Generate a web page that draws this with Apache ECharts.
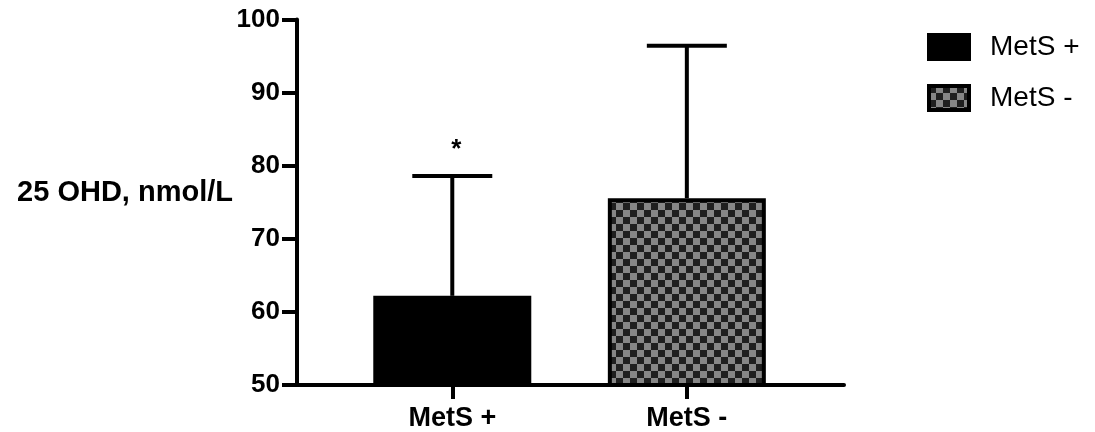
<!DOCTYPE html>
<html><head><meta charset="utf-8">
<script src="https://cdn.jsdelivr.net/npm/echarts@6/dist/echarts.min.js"></script>
<style>html,body{margin:0;padding:0;background:#fff}#c{width:1095px;height:432px}</style>
</head><body><div id="c"></div>
<script>
// ---- data ----
const categories = ['MetS +', 'MetS -'];
const xPositions = [1, 2];
const means = [62.2, 75.55];
const upperErrors = [78.6, 96.4];
const significance = ['*', ''];
const yTicks = [50, 60, 70, 80, 90, 100];
const yAxisTitle = '25 OHD, nmol/L';

const FONT = "'Liberation Sans', Arial, Helvetica, sans-serif";

function makeChecker(size, dark, light) {
  const c = document.createElement('canvas');
  c.width = c.height = size * 2;
  const ctx = c.getContext('2d');
  ctx.fillStyle = light; ctx.fillRect(0, 0, size * 2, size * 2);
  ctx.fillStyle = dark; ctx.fillRect(0, 0, size, size); ctx.fillRect(size, size, size, size);
  return c;
}
const checker = makeChecker(7, '#1f1f1f', '#868686');

const chart = echarts.init(document.getElementById('c'), null, {renderer: 'canvas'});
const option = {
  animation: false,
  backgroundColor: '#fff',
  title: {
    text: yAxisTitle, right: 1095 - 233, top: 178, padding: 0,
    textStyle: {color: '#000', fontSize: 29, fontWeight: 'bold', fontFamily: FONT}
  },
  grid: {left: 297, right: 251, top: 19.5, bottom: 46, containLabel: false},
  xAxis: {
    type: 'value', min: 0.338, max: 2.67,
    splitLine: {show: false},
    axisLine: {show: true, lineStyle: {color: '#000', width: 4}},
    axisTick: {show: true, customValues: xPositions, length: 14, lineStyle: {color: '#000', width: 4}},
    axisLabel: {show: true, customValues: xPositions, margin: 20,
      formatter: v => categories[xPositions.indexOf(v)] || '',
      color: '#000', fontSize: 27, fontWeight: 'bold', fontFamily: FONT}
  },
  yAxis: {
    type: 'value', min: yTicks[0], max: yTicks[yTicks.length - 1], interval: 10,
    splitLine: {show: false},
    axisLine: {show: true, lineStyle: {color: '#000', width: 4}},
    axisTick: {show: true, length: 15, lineStyle: {color: '#000', width: 4}},
    axisLabel: {margin: 17, color: '#000', fontSize: 26, fontWeight: 'bold', fontFamily: FONT}
  },
  legend: {
    orient: 'vertical', left: 927, top: 33, padding: 0,
    itemWidth: 40, itemHeight: 24, itemGap: 23, icon: 'rect',
    itemStyle: {borderColor: '#000', borderWidth: 4},
    textStyle: {color: '#000', fontSize: 28, fontFamily: FONT, lineHeight: 24, padding: [0, 0, 0, 16]},
    data: categories
  },
  series: [
    {name: categories[0], type: 'bar', barWidth: 158, barGap: '-100%',
      data: [[xPositions[0], means[0]]],
      itemStyle: {color: '#000', borderColor: '#000', borderWidth: 4}},
    {name: categories[1], type: 'bar', barWidth: 158, barGap: '-100%',
      data: [[xPositions[1], means[1]]],
      itemStyle: {color: {image: checker, repeat: 'repeat'}, borderColor: '#000', borderWidth: 4}},
    {type: 'custom', z: 5, clip: false,
      data: xPositions.map((x, i) => [x, means[i], upperErrors[i], i]),
      encode: {x: 0, y: 2},
      renderItem: function (params, api) {
        const x = api.value(0), m = api.value(1), u = api.value(2), i = api.value(3);
        const pTop = api.coord([x, u]);
        const pMean = api.coord([x, m]);
        const half = 40;
        const children = [
          {type: 'line', shape: {x1: pTop[0], y1: pMean[1], x2: pTop[0], y2: pTop[1]},
            style: {stroke: '#000', lineWidth: 4}},
          {type: 'line', shape: {x1: pTop[0] - half, y1: pTop[1], x2: pTop[0] + half, y2: pTop[1]},
            style: {stroke: '#000', lineWidth: 4}}
        ];
        const s = significance[i];
        if (s) {
          children.push({type: 'text', x: pTop[0] + 4, y: pTop[1] - 26,
            style: {text: s, fontSize: 26, fontWeight: 'bold', fontFamily: FONT, fill: '#000',
              align: 'center', verticalAlign: 'middle'}});
        }
        return {type: 'group', children: children};
      }}
  ]
};
chart.setOption(option);
</script></body></html>
